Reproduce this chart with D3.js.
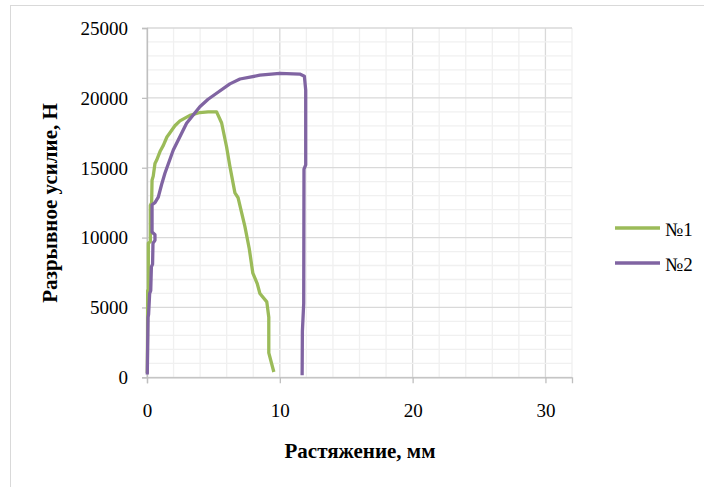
<!DOCTYPE html>
<html><head><meta charset="utf-8">
<script src="https://cdn.jsdelivr.net/npm/d3@7"></script>
<style>body{margin:0;background:#fff}</style>
</head><body>
<svg id="c" width="704" height="487"></svg>
<script>
const seriesNames = ["№1", "№2"];
const seriesColors = ["#9BBB59", "#8064A2"];
const xTicks = [0, 10, 20, 30];
const yTicks = [0, 5000, 10000, 15000, 20000, 25000];
const xTitle = "Растяжение, мм";
const yTitle = "Разрывное усилие, Н";
// №1
const s1x = [0.02,0.04,0.05,0.1,0.1,0.25,0.25,0.35,0.38,0.47,0.6,0.73,1.0,1.23,1.5,1.73,2.1,2.48,3.23,3.98,4.6,5.24,5.62,5.99,6.24,6.62,6.86,7.37,7.7,7.97,8.3,8.5,9.02,9.17,9.17,9.55];
const s1y = [300,3000,6200,6300,9600,9700,12300,12500,14100,14400,15300,15550,16200,16600,17200,17500,18000,18350,18750,18950,19000,19000,18200,16500,15100,13200,12850,10800,9200,7450,6700,6000,5400,4300,1750,380];
// №2
const s2x = [0.02,0.08,0.12,0.2,0.28,0.33,0.42,0.45,0.6,0.6,0.38,0.38,0.6,0.85,1.1,1.35,1.98,2.98,3.98,4.6,5.24,6.24,7.0,8.5,10.0,11.5,11.85,11.95,11.95,11.82,11.8,11.7,11.68];
const s2y = [200,4300,4500,6000,6200,7900,8100,9600,9800,10200,10400,12350,12500,12900,13800,14600,16270,18180,19370,19900,20330,21000,21350,21620,21750,21700,21550,20550,15200,14900,5300,3300,150];

const svg = d3.select("#c");
const L = 147, R = 572, T = 28, B = 377.3;
const x = d3.scaleLinear().domain([0, 32]).range([L, R]);
const y = d3.scaleLinear().domain([0, 25000]).range([B, T]);

// outer border
svg.append("rect").attr("x",10.5).attr("y",5.5).attr("width",720).attr("height",500)
  .attr("fill","none").attr("stroke","#d9d9d9").attr("stroke-width",1);

// grid
const g = svg.append("g");
d3.range(0, 33, 2).forEach(v => {
  g.append("line").attr("x1",x(v)).attr("x2",x(v)).attr("y1",T).attr("y2",B)
   .attr("stroke", v % 10 === 0 ? "#d9d9d9" : "#f0f0f0").attr("stroke-width",1.3);
});
d3.range(0, 25001, 1000).forEach(v => {
  g.append("line").attr("x1",L).attr("x2",R).attr("y1",y(v)).attr("y2",y(v))
   .attr("stroke", v % 5000 === 0 ? "#d9d9d9" : "#f0f0f0").attr("stroke-width",1.3);
});

// axes
const xa = svg.append("g").attr("transform",`translate(0,${B})`)
  .call(d3.axisBottom(x).tickValues(xTicks).tickSize(6).tickFormat(d3.format("d")));
const ya = svg.append("g").attr("transform",`translate(${L},0)`)
  .call(d3.axisLeft(y).tickValues(yTicks).tickSize(5).tickFormat(d3.format("d")));
[xa, ya].forEach(a => {
  a.select(".domain").attr("stroke","#bfbfbf").attr("stroke-width",1.3);
  a.selectAll(".tick line").attr("stroke","#bfbfbf").attr("stroke-width",1.3);
  a.selectAll("text").attr("font-family","'Liberation Serif', serif").attr("font-size",19).attr("fill","#000");
});
xa.selectAll("text").attr("dy",0).attr("y",40);
ya.selectAll("text").attr("x",-19).attr("dy","0.33em");

// lines
const line = d3.line().x(d => x(d[0])).y(d => y(d[1]));
const data = [d3.zip(s1x, s1y), d3.zip(s2x, s2y)];
data.forEach((d, i) => {
  svg.append("path").datum(d).attr("d", line).attr("fill","none")
    .attr("stroke", seriesColors[i]).attr("stroke-width",3.3).attr("stroke-linejoin","round");
});

// titles
svg.append("text").attr("x",360).attr("y",458).attr("text-anchor","middle")
  .attr("font-family","'Liberation Serif', serif").attr("font-weight","bold").attr("font-size",21).text(xTitle);
svg.append("text").attr("transform","translate(57,203) rotate(-90)").attr("text-anchor","middle")
  .attr("font-family","'Liberation Serif', serif").attr("font-weight","bold").attr("font-size",21).text(yTitle);

// legend
seriesNames.forEach((n, i) => {
  const ly = 228 + i * 35;
  svg.append("line").attr("x1",615).attr("x2",660).attr("y1",ly).attr("y2",ly)
    .attr("stroke",seriesColors[i]).attr("stroke-width",3.3);
  svg.append("text").attr("x",665).attr("y",ly+8).attr("font-family","'Liberation Serif', serif")
    .attr("font-size",19).text(n);
});
</script>
</body></html>
